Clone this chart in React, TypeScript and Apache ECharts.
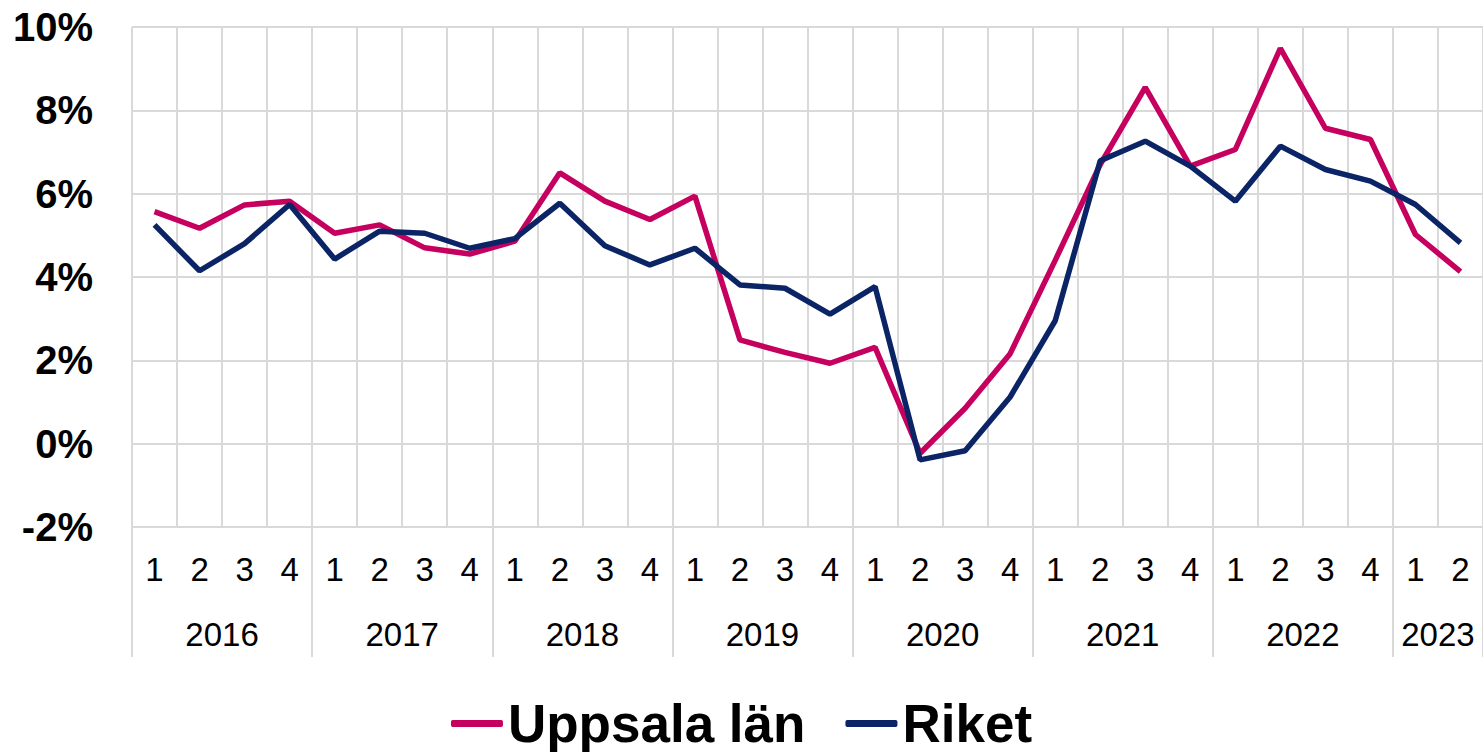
import React, { useEffect, useRef } from "react";
import * as echarts from "echarts";

const years = ["2016", "2017", "2018", "2019", "2020", "2021", "2022", "2023"];
const quartersPerYear = [4, 4, 4, 4, 4, 4, 4, 2];
const seriesNames = ["Uppsala län", "Riket"];
const uppsala = [
  5.57, 5.17, 5.73, 5.82, 5.05, 5.25, 4.7, 4.55, 4.86, 6.5, 5.82, 5.38, 5.94, 2.49, 2.19, 1.93,
  2.31, -0.23, 0.85, 2.16, 4.4, 6.7, 8.55, 6.66, 7.06, 9.49, 7.57, 7.3, 5.02, 4.13,
];
const riket = [
  5.25, 4.15, 4.8, 5.74, 4.43, 5.1, 5.05, 4.69, 4.92, 5.77, 4.75, 4.29, 4.69, 3.81, 3.73, 3.11,
  3.77, -0.39, -0.17, 1.12, 2.95, 6.79, 7.26, 6.66, 5.82, 7.14, 6.58, 6.3, 5.74, 4.82,
];
const yTicks = { min: -2, max: 10, interval: 2 };

export default function App() {
  const ref = useRef<HTMLDivElement>(null);
  useEffect(() => {
    if (!ref.current) return;
    const chart = echarts.init(ref.current, undefined, { renderer: "svg" });

    const quarterLabels: string[] = [];
    quartersPerYear.forEach((n) => {
      for (let q = 1; q <= n; q++) quarterLabels.push(String(q));
    });
    const total = quarterLabels.length;
    const yearSlots: string[] = new Array(total * 2 + 1).fill("");
    const boundaries = new Set<number>();
    let start = 0;
    years.forEach((y, i) => {
      const n = quartersPerYear[i];
      boundaries.add(start * 2);
      yearSlots[start * 2 + n] = y;
      start += n;
    });
    boundaries.add(start * 2);

    const font = "'Liberation Sans', Arial, sans-serif";
    const grid = "#D9D9D9";

    chart.setOption({
      animation: false,
      grid: { left: 132, right: 0, top: 27, bottom: 225 },
      xAxis: [
        {
          type: "category",
          data: quarterLabels,
          boundaryGap: true,
          axisLine: { show: false },
          axisTick: { show: false },
          splitLine: { show: true, interval: 0, lineStyle: { color: grid, width: 2 } },
          axisLabel: {
            interval: 0,
            margin: 26,
            fontSize: 33,
            color: "#000",
            fontFamily: font,
          },
        },
        {
          type: "category",
          data: yearSlots,
          boundaryGap: false,
          position: "bottom",
          axisLine: { show: false },
          axisTick: {
            show: true,
            length: 130,
            interval: (idx: number) => boundaries.has(idx),
            lineStyle: { color: grid, width: 2 },
          },
          splitLine: { show: false },
          axisLabel: {
            interval: (idx: number, val: string) => val !== "",
            margin: 91,
            fontSize: 33,
            color: "#000",
            fontFamily: font,
          },
        },
      ],
      yAxis: {
        type: "value",
        min: yTicks.min,
        max: yTicks.max,
        interval: yTicks.interval,
        axisLine: { show: false },
        axisTick: { show: false },
        splitLine: { lineStyle: { color: grid, width: 2 } },
        axisLabel: {
          formatter: (v: number) => `${v}%`,
          fontSize: 40,
          fontWeight: "bold",
          color: "#000",
          fontFamily: font,
          margin: 39,
        },
      },
      legend: {
        data: seriesNames,
        left: "center",
        top: 692,
        icon: "roundRect",
        itemWidth: 52,
        itemHeight: 7,
        itemGap: 40,
        textStyle: { fontSize: 53, fontWeight: "bold", color: "#000", fontFamily: font },
      },
      series: [
        {
          name: seriesNames[0],
          type: "line",
          data: uppsala,
          symbol: "none",
          lineStyle: { color: "#C6005F", width: 5.5 },
          itemStyle: { color: "#C6005F" },
        },
        {
          name: seriesNames[1],
          type: "line",
          data: riket,
          symbol: "none",
          lineStyle: { color: "#0B2466", width: 5.5 },
          itemStyle: { color: "#0B2466" },
        },
      ],
    });
    return () => chart.dispose();
  }, []);
  return (
    <div
      ref={ref}
      style={{ position: "fixed", left: 0, top: 0, width: 1483, height: 752, background: "#fff" }}
    />
  );
}
